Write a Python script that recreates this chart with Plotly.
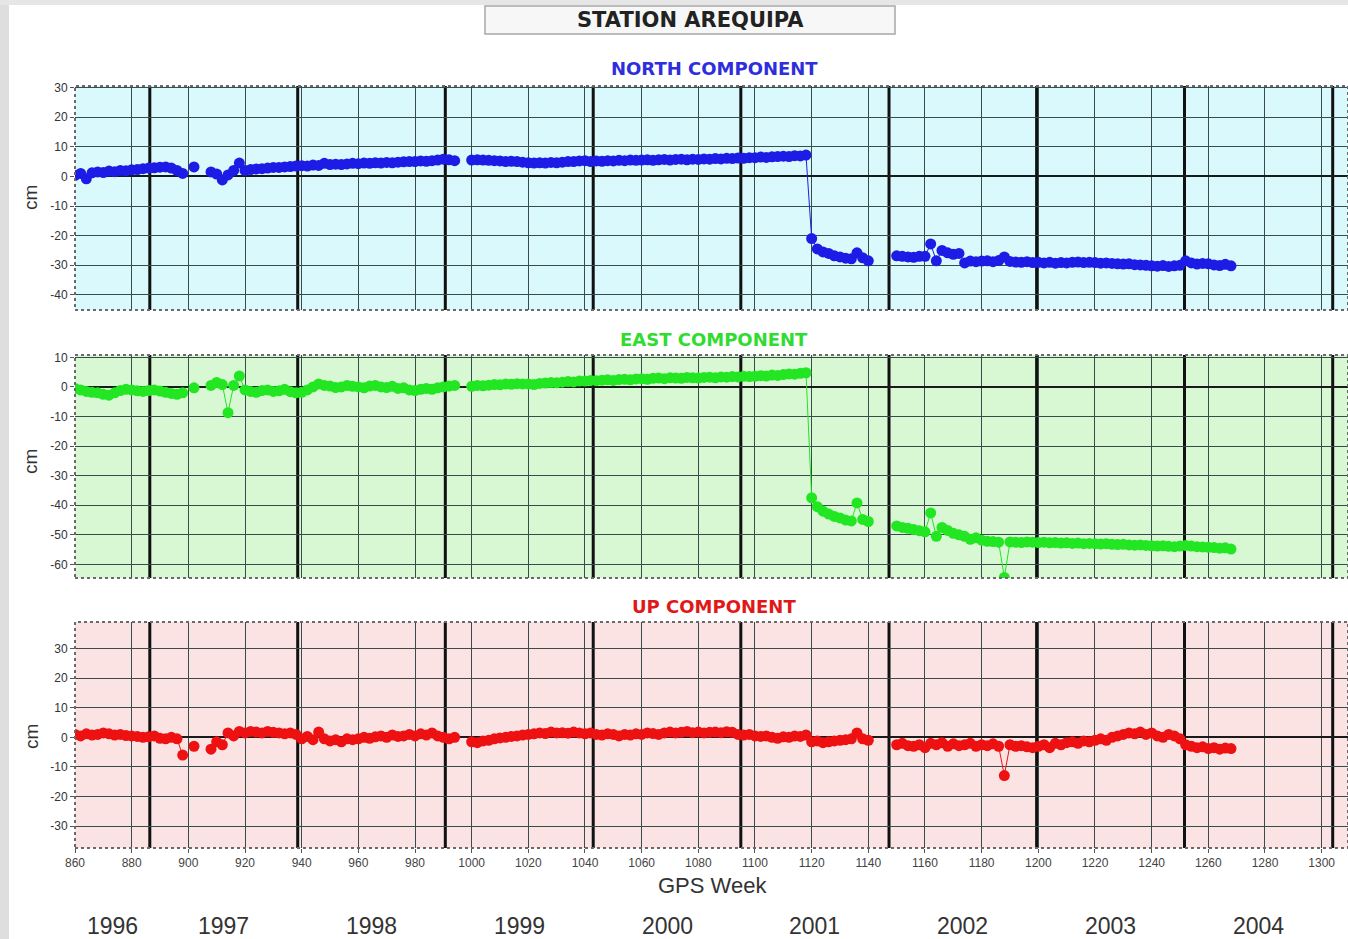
import plotly.graph_objects as go

# ---------------- data ----------------
gps_week = list(range(860, 1269, 2))  # one reading every 2 GPS weeks

north_cm = [
    0.3, 1.0, -0.8, 1.2, 1.5, 1.3, 1.8, 1.6, 2.0, 1.9,          # 860-878
    2.2, 2.3, 2.6, 2.8, 2.9, 3.1, 3.2, 2.8, 2.0, 1.0,           # 880-898
    None, 3.2, None, None, 1.5, 0.8, -1.2, 0.5, 2.0, 4.5,       # 900-918
    2.0, 2.3, 2.5, 2.6, 2.8, 3.0, 3.0, 3.2, 3.3, 3.5,           # 920-938
    3.6, 3.5, 3.8, 3.7, 4.4, 4.0, 4.1, 4.0, 4.2, 4.4,           # 940-958
    4.3, 4.5, 4.4, 4.6, 4.5, 4.7, 4.6, 4.8, 4.9, 5.0,           # 960-978
    5.0, 5.2, 5.1, 5.3, 5.5, 5.8, 5.6, 5.3, None, None,         # 980-998
    5.5, 5.6, 5.5, 5.4, 5.3, 5.2, 5.0, 5.1, 5.0, 4.8,           # 1000-1018
    4.6, 4.5, 4.6, 4.5, 4.7, 4.6, 4.8, 5.0, 5.0, 5.2,           # 1020-1038
    5.3, 5.0, 5.2, 5.1, 5.3, 5.2, 5.4, 5.3, 5.5, 5.4,           # 1040-1058
    5.5, 5.6, 5.4, 5.6, 5.7, 5.5, 5.7, 5.8, 5.6, 5.8,           # 1060-1078
    5.7, 5.9, 5.8, 6.0, 5.9, 6.1, 6.0, 6.2, 6.1, 6.3,           # 1080-1098
    6.3, 6.5, 6.4, 6.6, 6.7, 6.8, 6.7, 7.0, 6.9, 7.2,           # 1100-1118
    -21.0, -24.5, -25.5, -26.0, -26.8, -27.2, -27.6, -27.8, -25.8, -27.5,   # 1120-1138
    -28.5, None, None, None, None, -26.8, -27.0, -27.2, -27.3, -27.0,       # 1140-1158
    -27.0, -22.8, -28.5, -25.0, -25.8, -26.3, -26.0, -29.2, -28.6, -28.8,   # 1160-1178
    -28.6, -28.5, -28.8, -28.4, -27.2, -28.7, -28.9, -29.0, -28.8, -29.1,   # 1180-1198
    -29.0, -29.2, -29.0, -29.3, -29.1, -29.2, -29.0, -28.9, -29.1, -29.0,   # 1200-1218
    -29.1, -29.3, -29.2, -29.4, -29.5, -29.6, -29.5, -29.8, -29.9, -30.0,   # 1220-1238
    -30.2, -30.3, -30.1, -30.4, -30.2, -30.0, -28.5, -29.2, -29.6, -29.4,   # 1240-1258
    -29.5, -29.9, -30.1, -29.7, -30.2,                                      # 1260-1268
]

east_cm = [
    -0.5, -1.0, -1.5, -1.8, -2.0, -2.5, -2.8, -2.0, -1.2, -0.8,          # 860-878
    -1.0, -1.3, -1.5, -1.2, -1.0, -1.4, -1.8, -2.2, -2.5, -2.0,          # 880-898
    None, -0.3, None, None, 0.5, 1.5, 0.8, -8.7, 0.5, 3.7,               # 900-918
    -1.0, -1.5, -1.8, -1.2, -1.0, -1.5, -1.3, -0.8, -1.6, -2.0,          # 920-938
    -1.8, -1.0, 0.0, 1.0, 0.5, 0.3, -0.2, 0.0, 0.5, 0.2,                 # 940-958
    0.0, -0.3, 0.3, 0.5, 0.0, -0.2, 0.2, -0.5, -0.3, -1.0,               # 960-978
    -1.2, -0.8, -0.5, -0.8, -0.3, 0.0, 0.3, 0.5, None, None,             # 980-998
    0.2, 0.5, 0.4, 0.6, 0.8, 0.7, 1.0, 0.9, 1.1, 1.0,                    # 1000-1018
    1.0, 0.8, 1.2, 1.3, 1.5, 1.4, 1.6, 1.8, 1.7, 2.0,                    # 1020-1038
    2.0, 2.2, 2.1, 2.3, 2.4, 2.2, 2.5, 2.6, 2.4, 2.7,                    # 1040-1058
    2.8, 2.6, 2.9, 3.0, 2.8, 3.1, 3.0, 2.9, 3.2, 3.1,                    # 1060-1078
    3.0, 3.2, 3.3, 3.1, 3.4, 3.3, 3.5, 3.4, 3.6, 3.5,                    # 1080-1098
    3.6, 3.8, 3.7, 4.0, 3.9, 4.2, 4.4, 4.3, 4.6, 4.8,                    # 1100-1118
    -37.5, -40.5, -42.0, -43.0, -43.8, -44.3, -45.0, -45.3, -39.2, -44.8,   # 1120-1138
    -45.5, None, None, None, None, -47.0, -47.5, -47.8, -48.2, -48.6,       # 1140-1158
    -49.0, -42.6, -50.5, -47.5, -48.5, -49.5, -50.0, -50.5, -51.5, -51.0,   # 1160-1178
    -51.8, -52.2, -52.3, -52.5, -64.4, -52.4, -52.5, -52.6, -52.4, -52.5,   # 1180-1198
    -52.6, -52.5, -52.7, -52.6, -52.8, -52.7, -52.9, -52.8, -53.0, -52.9,   # 1200-1218
    -53.0, -53.1, -53.0, -53.2, -53.3, -53.2, -53.4, -53.5, -53.4, -53.6,   # 1220-1238
    -53.7, -53.8, -53.7, -53.9, -54.0, -53.8, -53.6, -53.8, -54.0, -54.1,   # 1240-1258
    -54.2, -54.3, -54.5, -54.4, -54.8,                                      # 1260-1268
]

up_cm = [
    1.0, 0.5, 1.2, 0.8, 1.0, 1.5, 1.2, 0.8, 1.0, 0.6,                    # 860-878
    0.5, 0.3, 0.0, 0.2, 0.5, -0.3, -0.5, 0.0, -0.5, -6.0,                # 880-898
    None, -3.0, None, None, -4.0, -1.5, -2.5, 1.5, 0.5, 2.0,             # 900-918
    1.5, 2.0, 1.8, 1.5, 2.0, 1.7, 1.5, 1.2, 1.5, 1.0,                    # 920-938
    -0.5, 0.3, -0.8, 1.8, -0.5, -1.2, -0.8, -1.5, -0.5, -0.8,            # 940-958
    -0.5, 0.0, -0.3, 0.2, 0.5, 0.0, 0.8, 0.3, 0.5, 1.0,                  # 960-978
    0.5, 1.2, 0.8, 1.5, 0.5, 0.0, -0.5, 0.0, None, None,                 # 980-998
    -1.5, -1.8, -1.2, -1.0, -0.5, -0.2, 0.0, 0.3, 0.5, 0.8,              # 1000-1018
    1.0, 1.2, 1.5, 1.3, 1.8, 1.5, 1.6, 1.4, 1.8, 1.5,                    # 1020-1038
    1.2, 1.5, 1.0, 0.8, 1.2, 1.0, 0.5, 1.0, 0.8, 1.2,                    # 1040-1058
    1.0, 1.5, 1.3, 1.0, 1.5, 1.8, 1.5, 1.7, 2.0, 1.6,                    # 1060-1078
    1.8, 1.5, 1.7, 1.8, 1.6, 1.9, 1.7, 1.0, 0.8, 1.0,                    # 1080-1098
    0.5, 0.3, 0.5, 0.0, -0.3, 0.2, 0.0, 0.5, 0.3, 0.8,                   # 1100-1118
    -1.5, -1.2, -1.8, -1.5, -1.2, -1.0, -0.8, -0.5, 1.5, -0.5,           # 1120-1138
    -1.0, None, None, None, None, -2.5, -2.0, -2.8, -3.0, -2.5,          # 1140-1158
    -3.5, -2.0, -2.5, -1.8, -3.0, -2.2, -2.8, -2.5, -2.0, -3.0,          # 1160-1178
    -2.5, -2.8, -2.2, -3.0, -12.9, -2.5, -3.0, -2.8, -3.2, -3.5,         # 1180-1198
    -3.0, -2.5, -3.5, -2.0, -2.5, -1.8, -1.5, -2.0, -1.2, -1.5,          # 1200-1218
    -1.0, -0.5, -1.0, 0.0, 0.5, 1.0, 1.5, 1.2, 1.8, 1.0,                 # 1220-1238
    1.5, 0.5, 0.0, 1.0, 0.5, -0.5, -2.5, -3.0, -3.5, -3.2,               # 1240-1258
    -3.8, -3.5, -4.0, -3.6, -3.8,                                        # 1260-1268
]

x_tick_values = list(range(860, 1301, 20))
year_start_weeks = [886.4, 938.6, 990.7, 1042.9, 1095.0, 1147.3, 1199.4, 1251.6, 1303.9]
year_labels = ["1996", "1997", "1998", "1999", "2000", "2001", "2002", "2003", "2004"]

north_ticks = [-40, -30, -20, -10, 0, 10, 20, 30]
east_ticks = [-60, -50, -40, -30, -20, -10, 0, 10]
up_ticks = [-30, -20, -10, 0, 10, 20, 30]

panel_titles = ["NORTH COMPONENT", "EAST COMPONENT", "UP COMPONENT"]
station_title = "STATION AREQUIPA"

# ---------------- layout helpers ----------------
W, H = 1348, 939
def px(x):
    return x / W
def py(y):
    return 1 - y / H

X_RANGE = [860, 1309.3]
panels = [
    dict(data=north_cm, color="#1c1ce6", bg="#d9f9fc", yr=[-45.1, 30.5], ticks=north_ticks,
         top=86, bottom=310, title_y=68, title_color="#2e2edc", cm_y=198),
    dict(data=east_cm, color="#22e622", bg="#d8f8d3", yr=[-64.6, 10.8], ticks=east_ticks,
         top=355, bottom=578, title_y=340, title_color="#2fdc2f", cm_y=462),
    dict(data=up_cm, color="#ee1111", bg="#fbe3e3", yr=[-37.4, 39.0], ticks=up_ticks,
         top=622, bottom=848, title_y=606, title_color="#e01818", cm_y=737),
]

fig = go.Figure()
layout = dict(
    width=W, height=H,
    margin=dict(l=0, r=0, t=0, b=0, autoexpand=False),
    paper_bgcolor="white", plot_bgcolor="rgba(0,0,0,0)",
    showlegend=False,
    font=dict(family="Liberation Sans, Arial", color="#333"),
)
shapes = []
annotations = []
grid_color = "#384c4c"

# textured page edge (left and top)
shapes.append(dict(type="rect", xref="paper", yref="paper", x0=0, x1=px(9), y0=0, y1=1,
                   fillcolor="#dedede", line=dict(width=0), layer="below"))
shapes.append(dict(type="rect", xref="paper", yref="paper", x0=0, x1=1, y0=py(5), y1=1,
                   fillcolor="#e6e6e6", line=dict(width=0), layer="below"))

for i, p in enumerate(panels, start=1):
    xa = "x" if i == 1 else f"x{i}"
    ya = "y" if i == 1 else f"y{i}"
    xkey = "xaxis" if i == 1 else f"xaxis{i}"
    ykey = "yaxis" if i == 1 else f"yaxis{i}"
    fig.add_trace(go.Scatter(
        x=gps_week, y=p["data"], mode="lines+markers", xaxis=xa, yaxis=ya,
        line=dict(color=p["color"], width=1),
        marker=dict(color=p["color"], size=11, line=dict(width=0)),
        connectgaps=False, hoverinfo="x+y",
    ))
    layout[xkey] = dict(
        domain=[px(75), 1.0], range=X_RANGE, tickmode="array", tickvals=x_tick_values,
        ticktext=[str(v) for v in x_tick_values],
        showgrid=True, gridcolor=grid_color, gridwidth=1, zeroline=False,
        showticklabels=(i == 3), ticks="outside" if i == 3 else "", ticklen=4,
        tickcolor="#555", tickfont=dict(size=12, color="#444", family="Liberation Sans, Arial"),
        anchor=ya, showline=False, fixedrange=True,
    )
    layout[ykey] = dict(
        domain=[py(p["bottom"]), py(p["top"])], range=p["yr"], tickmode="array",
        tickvals=p["ticks"], ticktext=[str(v) for v in p["ticks"]],
        showgrid=True, gridcolor=grid_color, gridwidth=1,
        zeroline=True, zerolinecolor="#1a1a1a", zerolinewidth=2,
        ticks="outside", ticklen=4, tickcolor="#555",
        tickfont=dict(size=12, color="#333", family="Liberation Sans, Arial"),
        anchor=xa, showline=False, fixedrange=True,
    )
    # panel background
    shapes.append(dict(type="rect", xref=f"{xa} domain", yref=f"{ya} domain",
                       x0=0, x1=1, y0=0, y1=1, fillcolor=p["bg"], line=dict(width=0),
                       layer="below"))
    # year boundary lines
    for wk in year_start_weeks:
        shapes.append(dict(type="line", xref=xa, yref=f"{ya} domain", x0=wk, x1=wk,
                           y0=0, y1=1, line=dict(color="#111", width=3), layer="below"))
    # dotted border
    shapes.append(dict(type="rect", xref=f"{xa} domain", yref=f"{ya} domain",
                       x0=0, x1=1, y0=0, y1=1, line=dict(color="#6a6a6a", width=2, dash="dot"),
                       layer="above"))
    # panel title
    annotations.append(dict(text=f"<b>{panel_titles[i-1]}</b>", x=px(714), y=py(p["title_y"]),
                            xref="paper", yref="paper", showarrow=False,
                            font=dict(family="DejaVu Sans", size=18, color=p["title_color"]),
                            xanchor="center", yanchor="middle"))
    # cm label
    annotations.append(dict(text="cm", x=px(31), y=py(p["cm_y"]), xref="paper", yref="paper",
                            showarrow=False, textangle=-90,
                            font=dict(family="Liberation Sans, Arial", size=19, color="#333"),
                            xanchor="center", yanchor="middle"))

# station title box
shapes.append(dict(type="rect", xref="paper", yref="paper", x0=px(485), x1=px(895),
                   y0=py(34), y1=py(6), fillcolor="#f7f7f7",
                   line=dict(color="#a8a8a8", width=1.5), layer="below"))
annotations.append(dict(text=f"<b>{station_title}</b>", x=px(690), y=py(20), xref="paper", yref="paper",
                        showarrow=False, font=dict(family="DejaVu Sans", size=21, color="#222"),
                        xanchor="center", yanchor="middle"))

# axis title and year labels
annotations.append(dict(text="GPS Week", x=px(712), y=py(885), xref="paper", yref="paper",
                        showarrow=False, font=dict(family="Liberation Sans, Arial", size=22, color="#333"),
                        xanchor="center", yanchor="middle"))
bounds = [X_RANGE[0]] + year_start_weeks
for k, lab in enumerate(year_labels):
    mid = (bounds[k] + bounds[k + 1]) / 2
    annotations.append(dict(text=lab, x=mid, y=py(926), xref="x3", yref="paper",
                            showarrow=False, font=dict(family="Liberation Sans, Arial", size=23, color="#333"),
                            xanchor="center", yanchor="middle"))

layout["shapes"] = shapes
layout["annotations"] = annotations
fig.update_layout(**layout)
fig.write_html("out.html")
